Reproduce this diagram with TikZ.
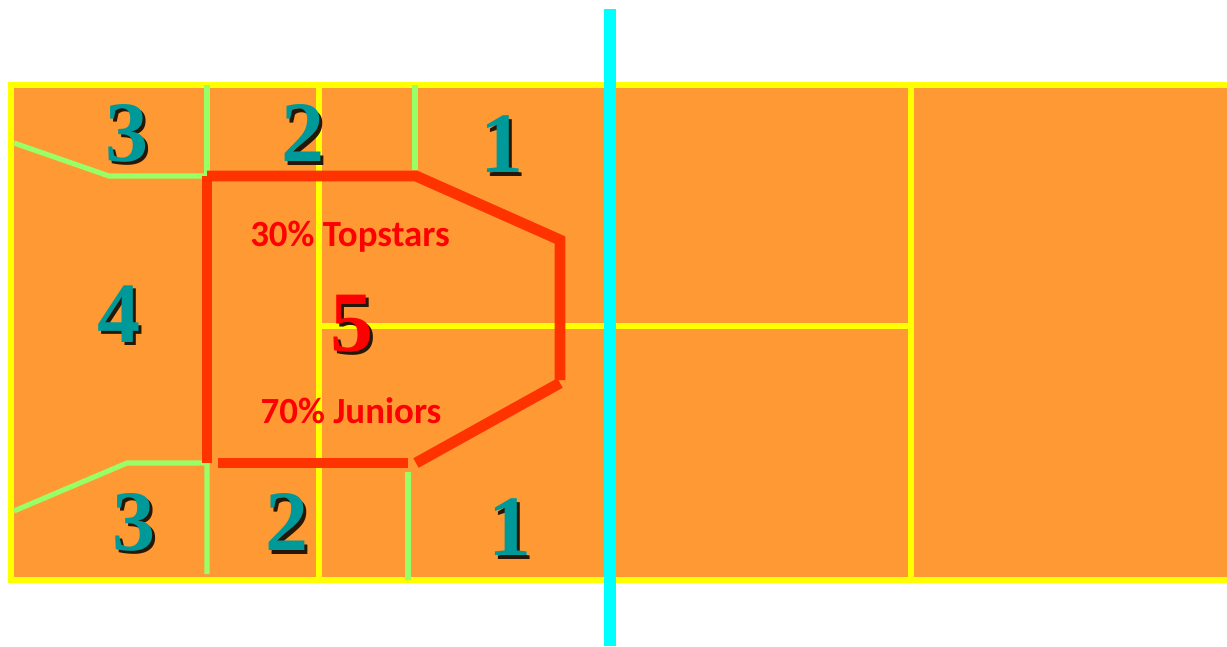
\documentclass[tikz,border=0pt]{standalone}
\usepackage{fontspec}
\setmainfont{Liberation Serif}
\newfontfamily\labelfont{Carlito}
\usepackage{tikz}

\definecolor{courtorange}{HTML}{FF9933}
\definecolor{lineyellow}{HTML}{FFFF00}
\definecolor{zonegreen}{HTML}{99FF66}
\definecolor{targetred}{HTML}{FF3300}
\definecolor{netcyan}{HTML}{00FFFF}
\definecolor{numteal}{HTML}{009999}
\colorlet{numshade}{black!85!courtorange}

\tikzset{
  courtline/.style={lineyellow, line width=3.4pt},
  zoneline/.style={zonegreen, line width=2.9pt},
  targetline/.style={targetred, line width=6.2pt},
  bignum/.style={font=\fontsize{49}{49}\selectfont\bfseries, inner sep=0pt},
  pctlabel/.style={font=\labelfont\fontsize{21}{22}\selectfont\bfseries, text=red, inner sep=0pt}
}

% number with a drop shadow behind it
\newcommand{\shadednum}[1]{\rlap{\kern1.8pt\raisebox{-1.8pt}{\textcolor{numshade}{#1}}}#1}

\begin{document}
\begin{tikzpicture}[x=0.02cm, y=-0.02cm]

% canvas
\useasboundingbox (0,0) rectangle (1227,646);

% parameters
\def\courtL{11}
\def\courtR{1227}
\def\courtT{85}
\def\courtB{580}
\def\midY{326}

% court surface
\fill[courtorange] (\courtL,\courtT) rectangle (\courtR,\courtB);

% court lines
\draw[courtline] (\courtR,\courtT) -- (\courtL,\courtT) -- (\courtL,\courtB) -- (\courtR,\courtB);
\draw[courtline] (319,\courtT) -- (319,\courtB);
\draw[courtline] (911,\courtT) -- (911,\courtB);
\draw[courtline] (319,\midY) -- (911,\midY);

% zone borders
\draw[zoneline] (14,143) -- (109,176) -- (205,176);
\draw[zoneline] (207,\courtT) -- (207,176);
\draw[zoneline] (415,\courtT) -- (415,170);
\draw[zoneline] (14,511) -- (127,463) -- (207,463) -- (207,574);
\draw[zoneline] (408,472) -- (408,\courtB);

% target zone 5
\draw[targetline] (207,176) -- (416,176) -- (560,240) -- (560,380);
\draw[targetline] (207,176) -- (207,463);
\draw[targetline] (218,463) -- (408,463);
\draw[targetline] (560,383) -- (416,463);

% net
\draw[netcyan, line width=7pt] (610,9) -- (610,646);

% zone numbers
\node[bignum, text=numteal] (topthree) at (127,135) {\shadednum{3}};
\node[bignum, text=numteal] (toptwo) at (303,135) {\shadednum{2}};
\node[bignum, text=numteal] (topone) at (502,146) {\shadednum{1}};
\node[bignum, text=numteal] (four) at (119,316) {\shadednum{4}};
\node[bignum, text=numteal] (botthree) at (134,524) {\shadednum{3}};
\node[bignum, text=numteal] (bottwo) at (287,524) {\shadednum{2}};
\node[bignum, text=numteal] (botone) at (510,529) {\shadednum{1}};
\node[bignum, text=red] (five) at (352,325) {\shadednum{5}};

% annotations
\node[pctlabel] (topstars) at (350,237) {30\% Topstars};
\node[pctlabel] (juniors) at (351,411) {70\% Juniors};

\end{tikzpicture}
\end{document}
